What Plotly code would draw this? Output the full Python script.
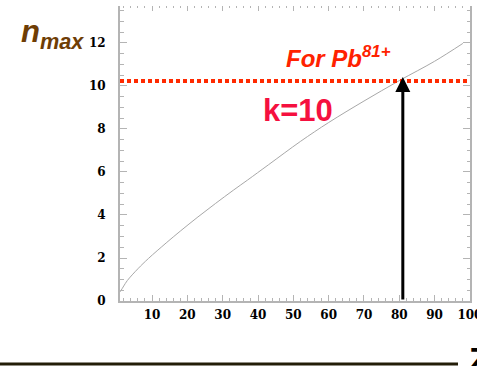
import plotly.graph_objects as go

# ---- data ----
z_values = [1, 2, 3, 6, 9, 14, 18, 23, 28, 33, 37, 43, 52, 60, 70, 80, 90, 98]
nmax_values = [0.43, 0.70, 0.95, 1.50, 1.98, 2.70, 3.25, 3.91, 4.54, 5.15, 5.62,
               6.34, 7.42, 8.30, 9.30, 10.25, 11.15, 11.98]
k10_level = 10.23          # n_max for k=10 (red dotted line)
pb_z = 81                  # Z marked by the arrow
x_range = [0.93, 100.02]
y_range = [0, 13.72]

W, H = 477, 366
L, R, T, B = 120, 7, 6, 65
PW, PH = W - L - R, H - T - B


def px(xp):
    return (xp - L) / PW


def py(yp):
    return (H - B - yp) / PH


axis_gray = "#b4b4b4"
tickfont = dict(family="DejaVu Serif", size=12, color="black", weight="bold")

fig = go.Figure()

fig.add_trace(go.Scatter(
    x=z_values, y=nmax_values, mode="lines",
    line=dict(color="#a8a8a8", width=1, shape="spline", smoothing=1.0),
    showlegend=False, hoverinfo="skip"))

fig.add_trace(go.Scatter(
    x=x_range, y=[k10_level, k10_level], mode="lines",
    line=dict(color="#ff2a00", width=4, dash="4px,3px"),
    showlegend=False, hoverinfo="skip"))

# invisible trace for top axis ticks
fig.add_trace(go.Scatter(x=x_range, y=[None, None], xaxis="x2", yaxis="y",
                         mode="lines", showlegend=False, hoverinfo="skip"))

fig.update_layout(
    width=W, height=H,
    margin=dict(l=L, r=R, t=T, b=B, autoexpand=False),
    paper_bgcolor="white", plot_bgcolor="white",
    xaxis=dict(range=x_range, showgrid=False, zeroline=False, automargin=False,
               showline=True, linecolor=axis_gray, linewidth=2,
               ticks="inside", ticklen=6, tickwidth=1, tickcolor=axis_gray,
               tick0=0, dtick=10, tickfont=tickfont, ticklabelstandoff=2,
               ticklabeloverflow="allow",
               minor=dict(ticks="inside", ticklen=3, dtick=2, tick0=0,
                          tickcolor=axis_gray, showgrid=False)),
    xaxis2=dict(range=x_range, overlaying="x", side="top", showgrid=False,
                zeroline=False, showline=False, showticklabels=False, automargin=False,
                ticks="inside", ticklen=5, tickcolor=axis_gray,
                tick0=0, dtick=10,
                minor=dict(ticks="inside", ticklen=2, dtick=2, tick0=0,
                           tickcolor=axis_gray, showgrid=False)),
    yaxis=dict(range=y_range, showgrid=False, zeroline=False, automargin=False,
               showline=True, linecolor=axis_gray, linewidth=2, mirror="ticks",
               ticks="inside", ticklen=7, tickwidth=1, tickcolor=axis_gray,
               tick0=0, dtick=2, tickfont=tickfont, ticklabelstandoff=10,
               minor=dict(ticks="inside", ticklen=3.5, dtick=0.5, tick0=0,
                          tickcolor=axis_gray, showgrid=False)),
)

annotations = [
    # arrow
    dict(x=pb_z, y=10.42, ax=pb_z, ay=0, xref="x", yref="y", axref="x", ayref="y",
         text="", showarrow=True, arrowhead=2, arrowsize=1, arrowwidth=3,
         arrowcolor="black"),
    # n_max label
    dict(x=px(19), y=py(56), xref="paper", yref="paper", xanchor="left", yanchor="bottom",
         text="<b><i>n<sub>max</sub></i></b>", showarrow=False,
         font=dict(family="Liberation Sans", size=31, color="#6e3d05")),
    # For Pb81+
    dict(x=px(338), y=py(57), xref="paper", yref="paper", xanchor="center", yanchor="middle",
         text="<b><i>For Pb<sup>81+</sup></i></b>", showarrow=False,
         font=dict(family="Liberation Sans", size=24, color="#ff2200")),
    # k=10
    dict(x=px(298), y=py(110), xref="paper", yref="paper", xanchor="center", yanchor="middle",
         text="<b>k=10</b>", showarrow=False,
         font=dict(family="Liberation Sans", size=31, color="#f5103f")),
    # Z (cut off at bottom right)
    dict(x=px(467), y=py(338), xref="paper", yref="paper", xanchor="left", yanchor="top",
         text="<b>Z</b>", showarrow=False,
         font=dict(family="Liberation Sans", size=34, color="black")),
]
fig.update_layout(annotations=annotations)

fig.add_shape(type="line", xref="paper", yref="paper",
              x0=px(0), x1=px(458), y0=py(364), y1=py(364),
              line=dict(color="#231d08", width=3))

fig.write_html(
    "out.html",
    config={"displayModeBar": False},
    post_script="document.body.style.margin='0px';document.body.style.overflow='hidden';",
)
